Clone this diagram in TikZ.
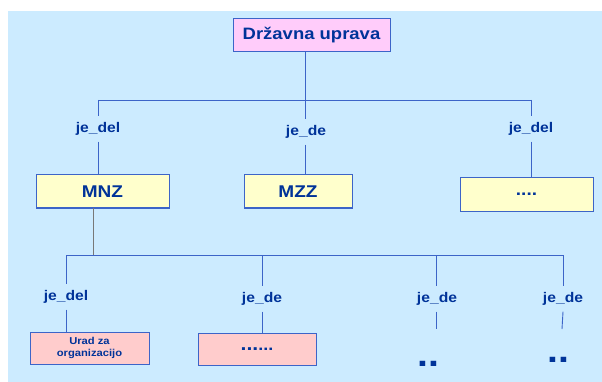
\documentclass[tikz,border=0pt]{standalone}
\usepackage{fontspec}
\newfontfamily\arialx[FakeStretch=1.12]{Liberation Sans}
\definecolor{bgblue}{RGB}{204,235,255}
\definecolor{topfill}{RGB}{255,204,250}
\definecolor{yellowfill}{RGB}{255,255,204}
\definecolor{pinkfill}{RGB}{255,204,204}
\definecolor{boxline}{RGB}{60,100,200}
\definecolor{txtblue}{RGB}{0,51,153}
\definecolor{linegray}{RGB}{120,120,120}
\tikzset{
  every node/.style={font=\arialx\bfseries, text=txtblue},
  conn/.style={draw=boxline, line width=0.9pt},
  grayconn/.style={draw=linegray, line width=0.9pt},
  boxbase/.style={draw=boxline, line width=1pt, minimum height=33pt, inner sep=0pt, align=center},
  topbox/.style={boxbase, fill=topfill, minimum width=157pt, font=\arialx\bfseries\fontsize{16.5}{19}\selectfont},
  ybox/.style={boxbase, fill=yellowfill, minimum width=133pt, font=\arialx\bfseries\fontsize{17}{19}\selectfont},
  pbox/.style={boxbase, fill=pinkfill, minimum width=119pt, minimum height=32pt},
  rel/.style={inner sep=6pt, font=\arialx\bfseries\fontsize{14}{16}\selectfont},
  bigdots/.style={inner sep=0pt, anchor=base, font=\arialx\bfseries\fontsize{35}{40}\selectfont}
}
\begin{document}
\begin{tikzpicture}[x=1pt,y=-1pt]
\useasboundingbox (0,0) rectangle (602,382);
\fill[bgblue] (8,11) rectangle (602,382);

% top level
\node[topbox] (root) at (311.5,35.5) {Državna uprava};
\coordinate (h1m) at (305,100);
\coordinate (h1l) at (98,100);
\coordinate (h1r) at (531,100);

\node[rel] (l1) at (98,129) {je\_del};
\node[rel] (l2) at (306,132) {je\_de};
\node[rel] (l3) at (531,129) {je\_del};

\node[ybox] (mnz) at (102.5,191.5) {MNZ};
\node[ybox, minimum width=108pt] (mzz) at (298,191.5) {MZZ};
\node[ybox, minimum width=133pt] (dots1) at (526.5,194.5) {\raisebox{-3pt}{....}};

\draw[conn] (root.south -| h1m) -- (h1m);
\draw[conn] (h1l) -- (h1r);
\draw[conn] (h1l) -- (l1.north -| h1l);
\draw[conn] (l1.south -| h1l) -- (mnz.north -| h1l);
\draw[conn] (h1m) -- (l2.north -| h1m);
\draw[conn] (l2.south -| h1m) -- (mzz.north -| h1m);
\draw[conn] (h1r) -- (l3.north -| h1r);
\draw[conn] (l3.south -| h1r) -- (dots1.north -| h1r);

% second level
\coordinate (h2m) at (93,255);
\coordinate (h2a) at (66,255);
\coordinate (h2b) at (262,255);
\coordinate (h2c) at (436,255);
\coordinate (h2d) at (563,255);

\draw[grayconn] (mnz.south -| h2m) -- (h2m);
\draw[conn] (h2a) -- (h2d);

\node[rel] (m1) at (66,297) {je\_del};
\node[rel] (m2) at (262,299) {je\_de};
\node[rel] (m3) at (437,299) {je\_de};
\node[rel] (m4) at (563,299) {je\_de};

\node[pbox, font=\arialx\bfseries\fontsize{10}{12}\selectfont] (urad) at (89.5,348) {Urad za\\organizacijo};
\node[pbox, minimum width=118pt, font=\arialx\bfseries\fontsize{16}{19}\selectfont] (dots2) at (257,349) {{\fontsize{19}{19}\selectfont...}...};
\node[bigdots] (dots3) at (428.5,366) {..};
\node[bigdots] (dots4) at (558,362) {..};
\coordinate (e3) at (436,329);
\coordinate (e4) at (562,329);

\draw[conn] (h2a) -- (m1.north -| h2a);
\draw[conn] (m1.south -| h2a) -- (urad.north -| h2a);
\draw[conn] (h2b) -- (m2.north -| h2b);
\draw[conn] (m2.south -| h2b) -- (dots2.north -| h2b);
\draw[conn] (h2c) -- (m3.north -| h2c);
\draw[conn] (m3.south -| h2c) -- (e3);
\draw[conn] (h2d) -- (m4.north -| h2d);
\draw[conn] (m4.south -| h2d) -- (e4);
\end{tikzpicture}
\end{document}
